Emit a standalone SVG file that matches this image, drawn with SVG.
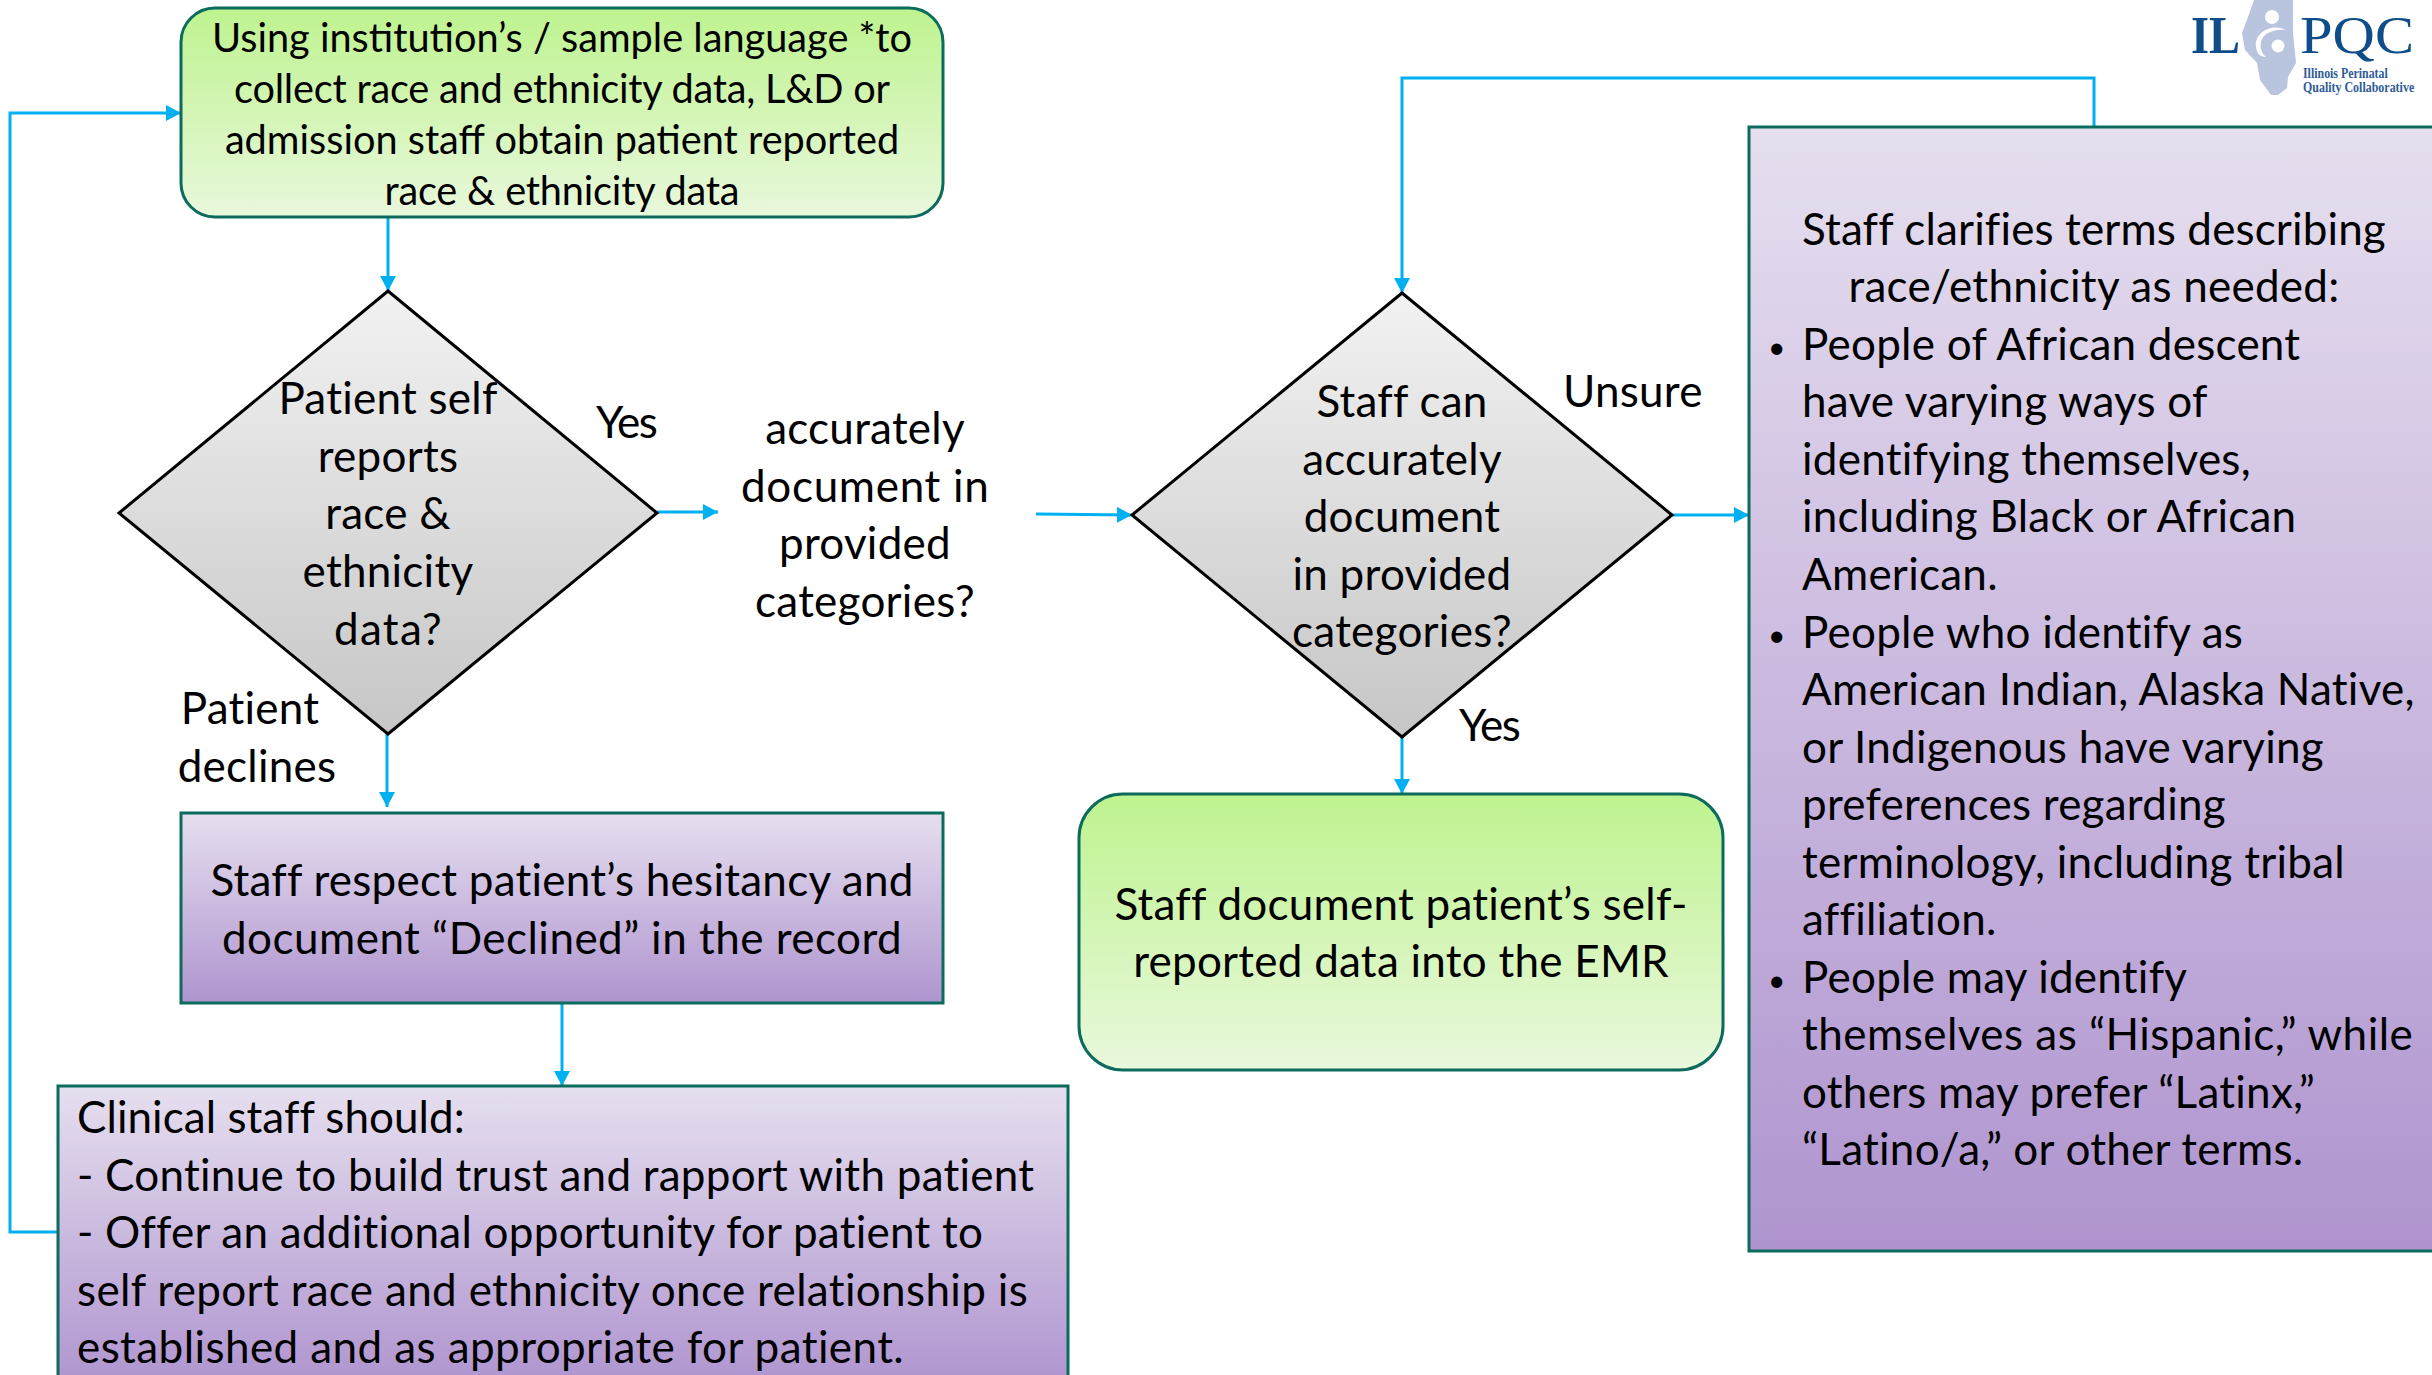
<svg xmlns="http://www.w3.org/2000/svg" width="2432" height="1375" viewBox="0 0 2432 1375">
<style>
text{font-family:"Lato","Carlito","Noto Sans",sans-serif;font-size:44px;letter-spacing:.25px;fill:#000}
text.s{font-size:39.7px;letter-spacing:0}
.m{text-anchor:middle}
.b{stroke:#0B6B5C;stroke-width:3}
.c{fill:none;stroke:#00B0F0;stroke-width:3}
.d{stroke:#000;stroke-width:3;fill:url(#gy)}
text.lg{font-family:"Liberation Serif",serif;font-size:53px;letter-spacing:0;fill:#0F4C8A}
text.ls{font-family:"Liberation Serif",serif;font-size:15px;letter-spacing:0;font-weight:bold;fill:#2F5C98}
text.bu{font-size:30px}
</style>
<defs>
<linearGradient id="gg" x1="0" y1="0" x2="0" y2="1"><stop offset="0" stop-color="#BEF38F"/><stop offset="1" stop-color="#E9F8DC"/></linearGradient>
<linearGradient id="gp" x1="0" y1="0" x2="0" y2="1"><stop offset="0" stop-color="#E6DFEF"/><stop offset="1" stop-color="#AF94CF"/></linearGradient>
<linearGradient id="gy" x1="0" y1="0" x2="0" y2="1"><stop offset="0" stop-color="#F2F2F2"/><stop offset="1" stop-color="#C6C6C6"/></linearGradient>
<marker id="a" markerUnits="userSpaceOnUse" markerWidth="16" markerHeight="16" refX="15" refY="8" orient="auto"><path d="M0 0L15 8L0 16Z" fill="#00B0F0"/></marker>
</defs>
<g id="connectors">
<path class="c" marker-end="url(#a)" d="M388 217V291"/>
<path class="c" marker-end="url(#a)" d="M657 512H718"/>
<path class="c" marker-end="url(#a)" d="M1036 514L1132 515"/>
<path class="c" marker-end="url(#a)" d="M387 734V807"/>
<path class="c" marker-end="url(#a)" d="M562 1003V1086"/>
<path class="c" marker-end="url(#a)" d="M58 1232H10V113H181"/>
<path class="c" marker-end="url(#a)" d="M2094 127V78H1402V293"/>
<path class="c" marker-end="url(#a)" d="M1672 515H1749"/>
<path class="c" marker-end="url(#a)" d="M1402 737V794"/>
</g>
<g id="n1"><rect class="b" x="181" y="8" width="762" height="209" rx="34" fill="url(#gg)"/>
<text class="s m" x="562" y="52">Using institution’s / sample language *to</text>
<text class="s m" x="562" y="103" textLength="656">collect race and ethnicity data, L&amp;D or</text>
<text class="s m" x="562" y="154">admission staff obtain patient reported</text>
<text class="s m" x="562" y="205" textLength="355">race &amp; ethnicity data</text></g>
<g id="n2"><path class="d" d="M388 291L657 513L388 734L119 513Z"/>
<text class="m" x="388" y="414">Patient self</text>
<text class="m" x="388" y="472">reports</text>
<text class="m" x="388" y="529">race &amp;</text>
<text class="m" x="388" y="587">ethnicity</text>
<text class="m" x="388" y="645" textLength="108">data?</text></g>
<g id="n3"><text class="m" x="865" y="444">accurately</text>
<text class="m" x="865" y="502" textLength="248">document in</text>
<text class="m" x="865" y="559">provided</text>
<text class="m" x="865" y="617">categories?</text></g>
<g id="n4"><path class="d" d="M1402 293L1672 515L1402 737L1132 515Z"/>
<text class="m" x="1402" y="417">Staff can</text>
<text class="m" x="1402" y="475">accurately</text>
<text class="m" x="1402" y="532">document</text>
<text class="m" x="1402" y="590">in provided</text>
<text class="m" x="1402" y="647">categories?</text></g>
<g id="n5"><rect class="b" x="181" y="813" width="762" height="190" fill="url(#gp)"/>
<text class="m" x="562" y="896">Staff respect patient’s hesitancy and</text>
<text class="m" x="562" y="954" textLength="680">document “Declined” in the record</text></g>
<g id="n6"><rect class="b" x="1079" y="794" width="644" height="276" rx="44" fill="url(#gg)"/>
<text class="m" x="1401" y="920">Staff document patient’s self-</text>
<text class="m" x="1401" y="977">reported data into the EMR</text></g>
<g id="n7"><rect class="b" x="58" y="1086" width="1010" height="300" fill="url(#gp)"/>
<text x="77" y="1133" textLength="388">Clinical staff should:</text>
<text x="77" y="1191">- Continue to build trust and rapport with patient</text>
<text x="77" y="1248">- Offer an additional opportunity for patient to</text>
<text x="77" y="1306" textLength="951">self report race and ethnicity once relationship is</text>
<text x="77" y="1363" textLength="827">established and as appropriate for patient.</text></g>
<g id="n8"><rect class="b" x="1749" y="127" width="700" height="1124" fill="url(#gp)"/>
<text class="m" x="2094" y="245" textLength="584">Staff clarifies terms describing</text>
<text class="m" x="2094" y="302">race/ethnicity as needed:</text>
<text class="bu" x="1768" y="358">•</text><text x="1802" y="360">People of African descent</text>
<text x="1802" y="417">have varying ways of</text>
<text x="1802" y="475">identifying themselves,</text>
<text x="1802" y="532">including Black or African</text>
<text x="1802" y="590">American.</text>
<text class="bu" x="1768" y="646">•</text><text x="1802" y="648">People who identify as</text>
<text x="1802" y="705">American Indian, Alaska Native,</text>
<text x="1802" y="763">or Indigenous have varying</text>
<text x="1802" y="820">preferences regarding</text>
<text x="1802" y="878">terminology, including tribal</text>
<text x="1802" y="935">affiliation.</text>
<text class="bu" x="1768" y="991">•</text><text x="1802" y="993">People may identify</text>
<text x="1802" y="1050" textLength="611">themselves as “Hispanic,” while</text>
<text x="1802" y="1108">others may prefer “Latinx,”</text>
<text x="1802" y="1165">“Latino/a,” or other terms.</text></g>
<g id="labels">
<text x="596" y="438" textLength="62">Yes</text>
<text class="m" x="250" y="724">Patient</text>
<text class="m" x="257" y="782">declines</text>
<text x="1563" y="407">Unsure</text>
<text x="1459" y="741" textLength="62">Yes</text></g>
<g id="logo">
<path fill="#B9C4DE" d="M2254 0L2248 17L2242 33L2245 50L2257 63L2260 80L2271 95L2278 95L2287 88L2288 77L2296 63L2293 33L2293 0Z"/>
<circle cx="2272" cy="17" r="7" fill="#fff"/>
<path fill="#fff" d="M2286 30C2270 22 2254 34 2256 47C2257 55 2262 57 2266 57C2260 52 2258 42 2265 35C2271 30 2280 29 2286 30Z"/>
<circle cx="2278" cy="46" r="6.5" fill="#fff"/>
<text class="lg" x="2191" y="53" font-weight="bold" textLength="49" lengthAdjust="spacingAndGlyphs">IL</text>
<text class="lg" x="2300" y="53" textLength="114" lengthAdjust="spacingAndGlyphs">PQC</text>
<text class="ls" transform="translate(2303 78) scale(.8 1)" textLength="106" lengthAdjust="spacingAndGlyphs">Illinois Perinatal</text>
<text class="ls" transform="translate(2303 92) scale(.8 1)" textLength="139" lengthAdjust="spacingAndGlyphs">Quality Collaborative</text>
</g>
</svg>
